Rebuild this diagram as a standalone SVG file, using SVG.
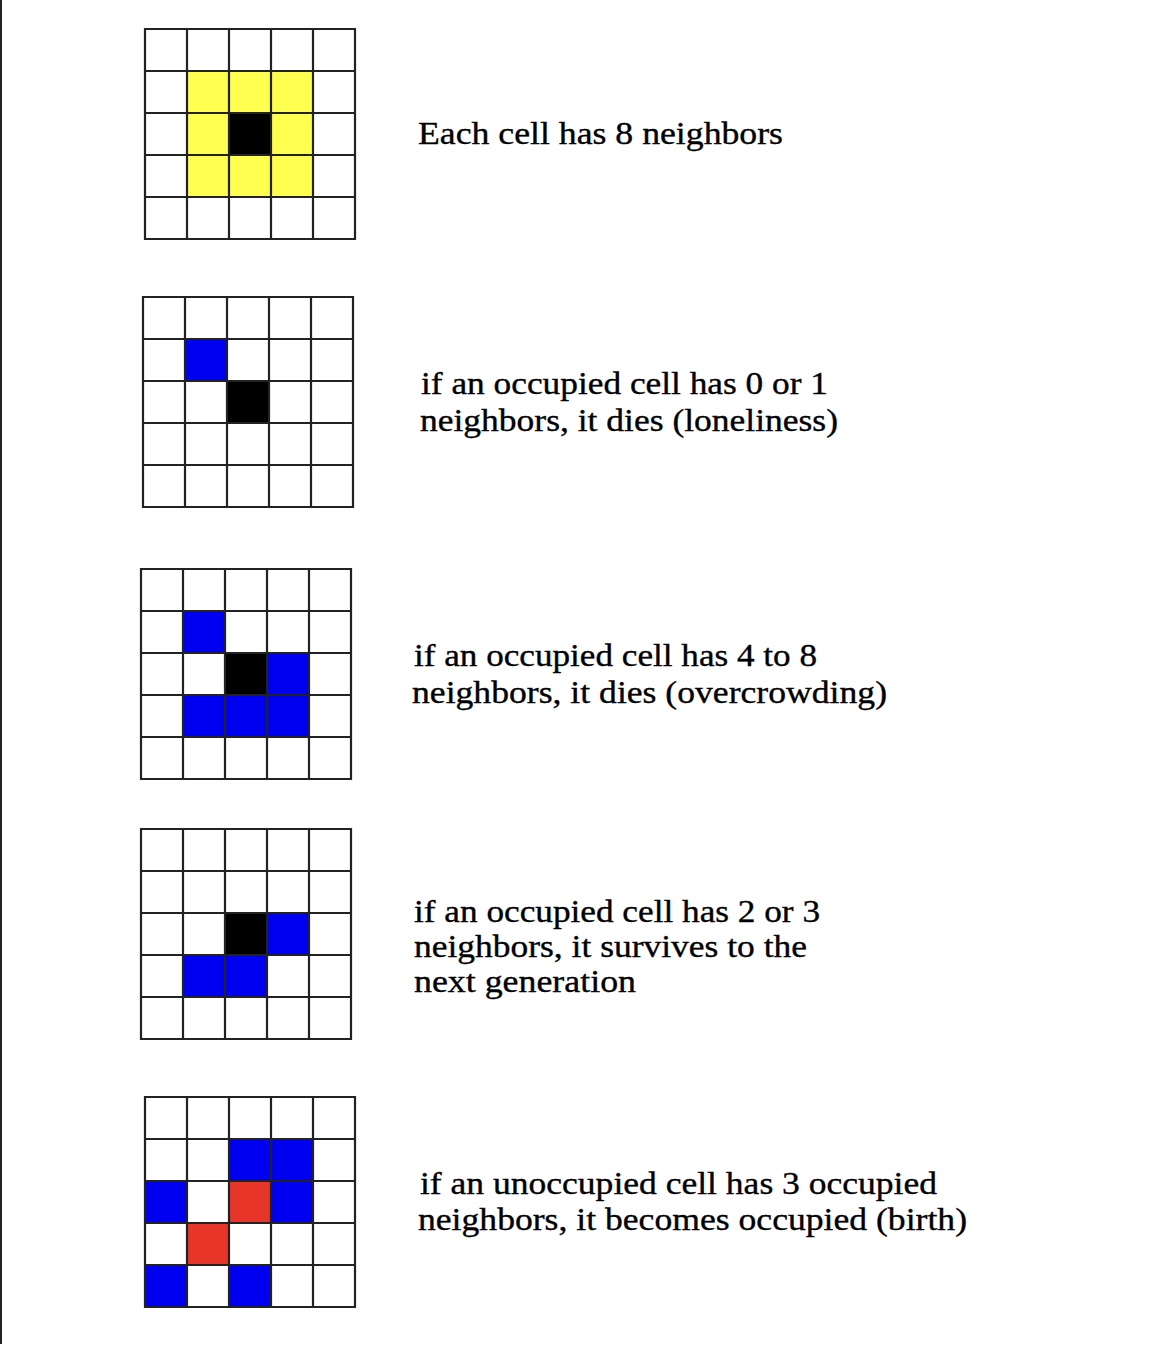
<svg xmlns="http://www.w3.org/2000/svg" xmlns:xlink="http://www.w3.org/1999/xlink" width="1156" height="1346" viewBox="0 0 1156 1346">
<style>
.y{fill:#ffff4f}
.k{fill:#000000}
.b{fill:#0000f0}
.r{fill:#e8352a}
.gl{fill:none;stroke:#222222;stroke-width:2.2}
text{font-family:"Liberation Serif","Times New Roman",serif;font-size:31px;fill:#000000;stroke:#000000;stroke-width:0.35}
</style>
<defs>
<path id="grid" d="M0,0H210V210H0Z M42,0V210 M84,0V210 M126,0V210 M168,0V210 M0,42H210 M0,84H210 M0,126H210 M0,168H210"/>
</defs>
<rect x="0" y="0" width="1156" height="1346" fill="#ffffff"/>
<line x1="1" y1="0" x2="1" y2="1344" stroke="#222222" stroke-width="2"/>

<g id="grid1" transform="translate(145,29)">
<rect class="y" x="42" y="42" width="126" height="126"/>
<rect class="k" x="84" y="84" width="42" height="42"/>
<use xlink:href="#grid" class="gl"/>
</g>
<g id="grid2" transform="translate(143,297)">
<rect class="b" x="42" y="42" width="42" height="42"/>
<rect class="k" x="84" y="84" width="42" height="42"/>
<use xlink:href="#grid" class="gl"/>
</g>
<g id="grid3" transform="translate(141,569)">
<rect class="b" x="42" y="42" width="42" height="42"/>
<rect class="k" x="84" y="84" width="42" height="42"/>
<rect class="b" x="126" y="84" width="42" height="42"/>
<rect class="b" x="42" y="126" width="126" height="42"/>
<use xlink:href="#grid" class="gl"/>
</g>
<g id="grid4" transform="translate(141,829)">
<rect class="k" x="84" y="84" width="42" height="42"/>
<rect class="b" x="126" y="84" width="42" height="42"/>
<rect class="b" x="42" y="126" width="84" height="42"/>
<use xlink:href="#grid" class="gl"/>
</g>
<g id="grid5" transform="translate(145,1097)">
<rect class="b" x="84" y="42" width="84" height="42"/>
<rect class="b" x="0" y="84" width="42" height="42"/>
<rect class="r" x="84" y="84" width="42" height="42"/>
<rect class="b" x="126" y="84" width="42" height="42"/>
<rect class="r" x="42" y="126" width="42" height="42"/>
<rect class="b" x="0" y="168" width="42" height="42"/>
<rect class="b" x="84" y="168" width="42" height="42"/>
<use xlink:href="#grid" class="gl"/>
</g>

<g id="label1">
<text x="418" y="144" textLength="365" lengthAdjust="spacingAndGlyphs">Each cell has 8 neighbors</text>
</g>
<g id="label2">
<text x="421" y="394" textLength="407" lengthAdjust="spacingAndGlyphs">if an occupied cell has 0 or 1</text>
<text x="420" y="431" textLength="418" lengthAdjust="spacingAndGlyphs">neighbors, it dies (loneliness)</text>
</g>
<g id="label3">
<text x="414" y="666" textLength="403" lengthAdjust="spacingAndGlyphs">if an occupied cell has 4 to 8</text>
<text x="412" y="703" textLength="475" lengthAdjust="spacingAndGlyphs">neighbors, it dies (overcrowding)</text>
</g>
<g id="label4">
<text x="414" y="922" textLength="406" lengthAdjust="spacingAndGlyphs">if an occupied cell has 2 or 3</text>
<text x="414" y="957" textLength="393" lengthAdjust="spacingAndGlyphs">neighbors, it survives to the</text>
<text x="414" y="992" textLength="222" lengthAdjust="spacingAndGlyphs">next generation</text>
</g>
<g id="label5">
<text x="420" y="1194" textLength="517" lengthAdjust="spacingAndGlyphs">if an unoccupied cell has 3 occupied</text>
<text x="418" y="1230" textLength="549" lengthAdjust="spacingAndGlyphs">neighbors, it becomes occupied (birth)</text>
</g>
</svg>
